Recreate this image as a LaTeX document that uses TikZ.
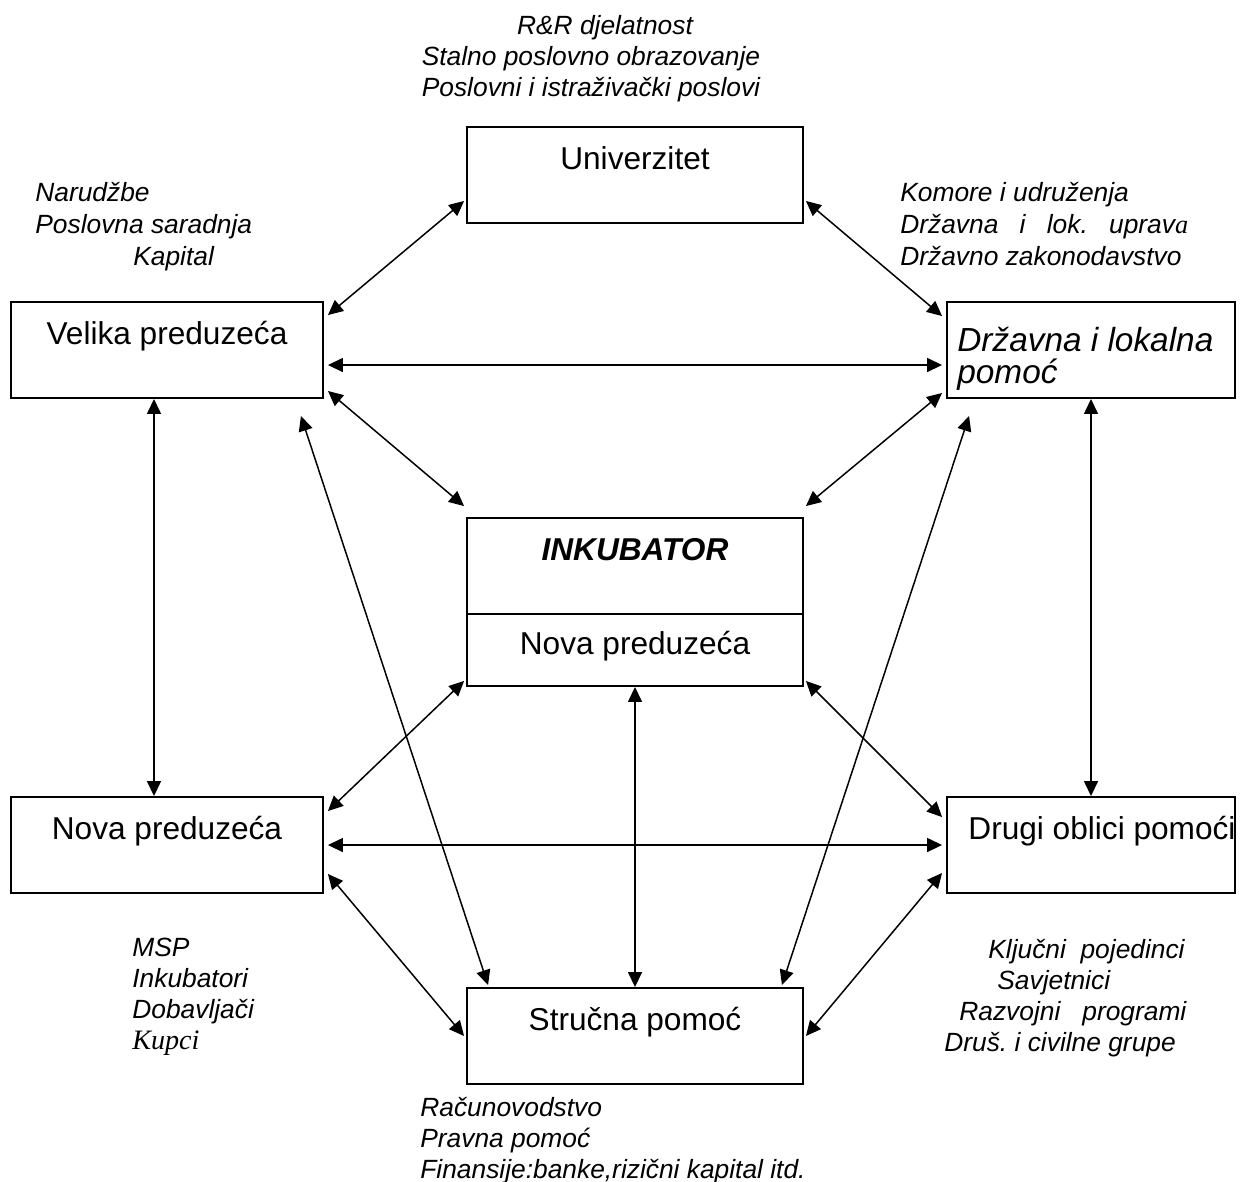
\documentclass[tikz,border=0pt]{standalone}
\usepackage{fontspec}
\setmainfont{Liberation Sans}
\newfontfamily\timesfont{Liberation Serif}
\usepackage{tikz}
\usetikzlibrary{arrows.meta, positioning, calc}
\frenchspacing

\tikzset{
  box/.style={draw, line width=1.1pt, minimum width=6.72cm, minimum height=1.92cm, inner sep=0pt,
    text height=0.46cm, text depth=0.70cm, font=\fontsize{18}{16}\selectfont},
  lbl/.style={anchor=base west, inner sep=0pt, align=left, font=\fontsize{15}{17.5}\selectfont\itshape},
  link/.style={<->, line width=0.85pt}
}

\begin{document}
\begin{tikzpicture}[x=0.02cm, y=-0.02cm, >={Triangle[length=0.3cm, width=0.28cm]}]
  \useasboundingbox (0,0) rectangle (1251,1181);

  % boxes
  \node[box] (univ) at (635,175) {Univerzitet};
  \node[box, minimum width=6.24cm] (velika) at (167,350) {Velika preduzeća};
  \node[box, minimum width=5.76cm] (drzavna) at (1091,350) {};
  \node[lbl, font=\fontsize{19}{18}\selectfont\itshape] (drzavnatxt) at (957,383) {Državna i lokalna\\pomoć};
  \node[box] (inkub) at (635,566) {\bfseries\itshape INKUBATOR};
  \node[box, minimum height=1.44cm, text depth=0.26cm, below=-1.1pt of inkub] (inkubnova) {Nova preduzeća};
  \node[box, minimum width=6.24cm] (nova) at (167,845) {Nova preduzeća};
  \node[box, minimum width=5.76cm] (drugi) at (1091,845) {\hspace*{0.22cm}Drugi oblici pomoći\hspace*{-0.22cm}};
  \node[box] (strucna) at (635,1036) {Stručna pomoć};

  % connectors
  \draw[link] ($(velika.north east)+(4,14)$) -- ($(univ.south west)+(-2,-23)$);
  \draw[link] ($(univ.south east)+(2,-23)$) -- ($(drzavna.north west)+(-4,15)$);
  \draw[link] ($(velika.east)+(4,15)$) -- ($(drzavna.west)+(-4,15)$);
  \draw[link] ($(velika.south east)+(4,-8)$) -- ($(inkub.north west)+(-2,-11)$);
  \draw[link] ($(drzavna.south west)+(-4,-6)$) -- ($(inkub.north east)+(2,-11)$);
  \draw[link] ($(velika.south)+(-13,0)$) -- ($(nova.north)+(-13,0)$);
  \draw[link] (drzavna.south) -- (drugi.north);
  \draw[link] ($(velika.south east)+(-23,17)$) -- ($(strucna.north west)+(22,-2)$);
  \draw[link] ($(drzavna.south west)+(23,17)$) -- ($(strucna.north east)+(-22,-2)$);
  \draw[link] ($(inkubnova.south west)+(-2,-6)$) -- ($(nova.north east)+(4,15)$);
  \draw[link] ($(inkubnova.south east)+(2,-6)$) -- ($(drugi.north west)+(-4,21)$);
  \draw[link] ($(nova.east)+(4,0)$) -- ($(drugi.west)+(-4,0)$);
  \draw[link] (inkubnova.south) -- (strucna.north);
  \draw[link] ($(nova.south east)+(4,-20)$) -- ($(strucna.west)+(-2,0)$);
  \draw[link] ($(drugi.south west)+(-4,-21)$) -- ($(strucna.east)+(2,0)$);

  % labels (placed at the baseline of their last line)
  \node[lbl, anchor=base, align=center, font=\fontsize{15}{17.4}\selectfont\itshape] (univlbl) at (591,96)
    {\hspace*{0.56cm}R\&R djelatnost\\Stalno poslovno obrazovanje\\Poslovni i istraživački poslovi};
  \node[lbl, font=\fontsize{15}{18.2}\selectfont\itshape] (velikalbl) at (35,265)
    {Narudžbe\\Poslovna saradnja\\\hspace*{1.96cm}Kapital};
  \node[lbl, font=\fontsize{15}{18.2}\selectfont\itshape] (drzavnalbl) at (900,265)
    {Komore i udruženja\\\makebox[5.76cm][s]{Državna i lok. uprav{\timesfont a}}\\Državno zakonodavstvo};
  \node[lbl] (novalbl) at (132,1049)
    {MSP\\Inkubatori\\Dobavljači\\{\timesfont\fontsize{16}{17.5}\selectfont Kupci}};
  \node[lbl] (drugilbl) at (944,1051)
    {\hspace*{0.88cm}Ključni\ \ pojedinci\\\hspace*{1.06cm}Savjetnici\\\hspace*{0.30cm}Razvojni\ \ \ programi\\Druš. i civilne grupe};
  \node[lbl] (strucnalbl) at (420,1178)
    {Računovodstvo\\Pravna pomoć\\Finansije:banke,rizični kapital itd.};
\end{tikzpicture}
\end{document}
